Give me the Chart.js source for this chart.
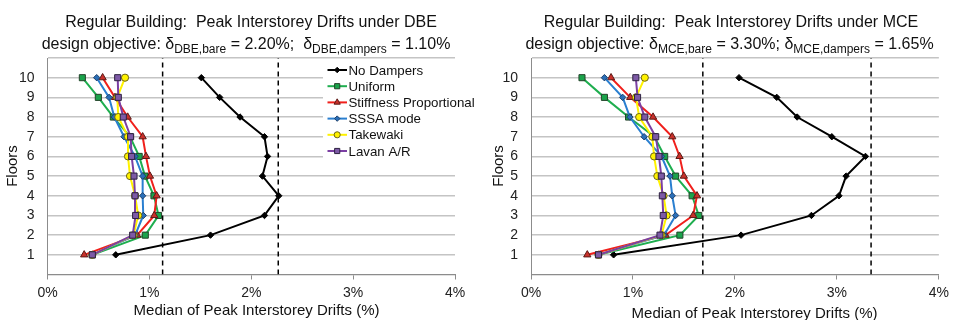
<!DOCTYPE html>
<html>
<head>
<meta charset="utf-8">
<script src="https://cdn.jsdelivr.net/npm/chart.js@4/dist/chart.umd.min.js"></script>
<style>
  html, body { margin: 0; padding: 0; background: #fff; }
  #wrap { position: relative; width: 954px; height: 320px; }
  .box { position: absolute; top: 0; width: 477px; height: 320px; }
</style>
</head>
<body>
<div id="wrap">
  <div class="box" style="left:0"><canvas id="dbe" width="477" height="320"></canvas></div>
  <div class="box" style="left:477px"><canvas id="mce" width="477" height="320"></canvas></div>
</div>
<script>
// Floors and series
const floors = [1, 2, 3, 4, 5, 6, 7, 8, 9, 10];
const seriesNames = ['No Dampers', 'Uniform', 'Stiffness Proportional', 'SSSA mode', 'Takewaki', 'Lavan A/R'];
const xTickValues = [0, 1, 2, 3, 4];
const yTickLabels = ['1', '2', '3', '4', '5', '6', '7', '8', '9', '10'];

// DBE: median peak interstorey drift (%) per floor (floor 1 -> 10)
const dbeNoDampers = [0.67, 1.60, 2.13, 2.27, 2.11, 2.16, 2.13, 1.89, 1.69, 1.51];
const dbeUniform = [0.44, 0.96, 1.09, 1.045, 0.957, 0.90, 0.81, 0.646, 0.499, 0.342];
const dbeStiffness = [0.36, 0.88, 1.048, 1.071, 1.006, 0.967, 0.934, 0.787, 0.662, 0.541];
const dbeSSSA = [0.44, 0.86, 0.94, 0.934, 0.934, 0.859, 0.751, 0.656, 0.604, 0.483];
const dbeTakewaki = [0.44, 0.845, 0.89, 0.86, 0.81, 0.79, 0.79, 0.695, 0.685, 0.761];
const dbeLavan = [0.44, 0.836, 0.865, 0.859, 0.849, 0.826, 0.816, 0.744, 0.695, 0.689];
const dbeLimits = [1.13, 2.265];

// MCE: median peak interstorey drift (%) per floor (floor 1 -> 10)
const mceNoDampers = [0.81, 2.06, 2.75, 3.02, 3.09, 3.28, 2.95, 2.61, 2.41, 2.04];
const mceUniform = [0.662, 1.46, 1.645, 1.58, 1.418, 1.311, 1.21, 0.957, 0.72, 0.50];
const mceStiffness = [0.552, 1.32, 1.59, 1.628, 1.499, 1.457, 1.385, 1.197, 0.973, 0.785];
const mceSSSA = [0.662, 1.304, 1.418, 1.385, 1.363, 1.28, 1.109, 0.97, 0.899, 0.72];
const mceTakewaki = [0.662, 1.28, 1.33, 1.30, 1.239, 1.207, 1.19, 1.061, 1.03, 1.116];
const mceLavan = [0.662, 1.265, 1.297, 1.288, 1.278, 1.255, 1.223, 1.116, 1.045, 1.028];
const mceLimits = [1.685, 3.335];

const FONT = '"Liberation Sans", Arial, Helvetica, sans-serif';
Chart.defaults.font.family = FONT;

const styles = [
  { line: '#000000', fill: '#000000', border: '#000000', shape: 'rectRot', r: 3.2 },
  { line: '#1fae4f', fill: '#1aa34b', border: '#24442a', shape: 'rect', r: 4.3 },
  { line: '#f0201c', fill: '#c9302a', border: '#5a1a16', shape: 'triangle', r: 4.2 },
  { line: '#2a7fd0', fill: '#2a6fb8', border: '#1c3f6a', shape: 'rectRot', r: 3.2 },
  { line: '#fff200', fill: '#fff200', border: '#6b6418', shape: 'circle', r: 3.6 },
  { line: '#7b3fa3', fill: '#7d5aa6', border: '#2e2240', shape: 'rect', r: 4.3 }
];

function drawRich(ctx, parts, cx, baseline) {
  let total = 0;
  parts.forEach(p => {
    ctx.font = (p.sub ? 12 : 16) + 'px ' + FONT;
    p.w = ctx.measureText(p.t).width;
    total += p.w;
  });
  let x = cx - total / 2;
  ctx.textAlign = 'left';
  ctx.textBaseline = 'alphabetic';
  parts.forEach(p => {
    ctx.font = (p.sub ? 12 : 16) + 'px ' + FONT;
    ctx.fillText(p.t, x, baseline + (p.sub ? 4 : 0));
    x += p.w;
  });
}

function textPlugin(cfg) {
  return {
    id: 'texts',
    afterDatasetsDraw(chart) {
      const ctx = chart.ctx;
      ctx.save();
      ctx.fillStyle = '#111';
      drawRich(ctx, [{ t: cfg.title1 }], cfg.titleX, 27);
      drawRich(ctx, cfg.title2, cfg.title2X, 49);

      ctx.font = '15px ' + FONT;
      ctx.textAlign = 'center';
      ctx.textBaseline = 'alphabetic';
      ctx.fillText('Median of Peak Interstorey Drifts (%)', cfg.xTitleX, cfg.xTitleY);

      ctx.save();
      ctx.translate(cfg.yTitleX, 166);
      ctx.rotate(-Math.PI / 2);
      ctx.textBaseline = 'middle';
      ctx.fillText('Floors', 0, 0);
      ctx.restore();

      if (cfg.legend) {
        ctx.fillStyle = '#ffffff';
        ctx.fillRect(323, 60, 154, 104);
        const ys = [70, 86.2, 102.4, 118.6, 134.8, 151];
        seriesNames.forEach((name, i) => {
          const s = styles[i];
          const y = ys[i];
          ctx.strokeStyle = s.line;
          ctx.lineWidth = 2;
          ctx.beginPath();
          ctx.moveTo(327.5, y);
          ctx.lineTo(347, y);
          ctx.stroke();
          ctx.fillStyle = s.fill;
          ctx.strokeStyle = s.border;
          ctx.lineWidth = 1;
          Chart.helpers.drawPoint(ctx, { pointStyle: s.shape, radius: s.r * 0.85, rotation: 0, borderWidth: 1 }, 337.2, y);
          ctx.fillStyle = '#111';
          ctx.font = '13.3px ' + FONT;
          ctx.textAlign = 'left';
          ctx.textBaseline = 'middle';
          ctx.fillText(name, 348.5, y + 1);
        });
      }
      ctx.restore();
    }
  };
}

function makeChart(id, series, limits, cfg) {
  const datasets = [];
  limits.forEach(v => {
    datasets.push({
      data: [{ x: v, y: 0 }, { x: v, y: 11 }],
      showLine: true, borderColor: '#000', borderWidth: 1.5, borderDash: [5, 4],
      pointRadius: 0, order: 10
    });
  });
  series.forEach((vals, i) => {
    const s = styles[i];
    datasets.push({
      label: seriesNames[i],
      data: floors.map((f, k) => ({ x: vals[k], y: f })),
      showLine: true,
      borderColor: s.line,
      borderWidth: 2,
      pointStyle: s.shape,
      pointRadius: s.r,
      pointBackgroundColor: s.fill,
      pointBorderColor: s.border,
      pointBorderWidth: 1,
      order: 5 - i
    });
  });

  return new Chart(document.getElementById(id), {
    type: 'scatter',
    data: { datasets },
    options: {
      responsive: false,
      animation: false,
      events: [],
      layout: { padding: { left: 0, right: cfg.padRight, top: 58, bottom: 0 } },
      plugins: { legend: { display: false }, tooltip: { enabled: false } },
      scales: {
        x: {
          type: 'linear', min: 0, max: 4,
          afterBuildTicks: s => { s.ticks = xTickValues.map(v => ({ value: v })); },
          ticks: { callback: v => v + '%', font: { size: 14 }, color: '#222', padding: 5, maxRotation: 0, autoSkip: false },
          grid: { drawOnChartArea: false, drawTicks: true, tickLength: 5, color: '#8c8c8c' },
          border: { color: '#8c8c8c', width: 1 },
          afterFit: s => { s.height = 320 - 274.5; }
        },
        y: {
          type: 'linear', min: 0, max: 11,
          afterBuildTicks: s => {
            const t = [];
            for (let v = 0; v <= 11; v++) t.push({ value: v });
            s.ticks = t;
          },
          ticks: {
            callback: v => (v >= 1 && v <= 10) ? yTickLabels[v - 1] : '',
            font: { size: 14 }, color: '#222', padding: 13, autoSkip: false
          },
          grid: { color: '#c4c4c4', lineWidth: 1.5, drawTicks: false },
          border: { color: '#8c8c8c', width: 1 },
          afterFit: s => { s.width = cfg.axisLeft; }
        }
      }
    },
    plugins: [textPlugin(cfg)]
  });
}

makeChart('dbe', [dbeNoDampers, dbeUniform, dbeStiffness, dbeSSSA, dbeTakewaki, dbeLavan], dbeLimits, {
  padRight: 477 - 455, axisLeft: 47.5,
  title1: 'Regular Building:  Peak Interstorey Drifts under DBE', titleX: 251,
  title2: [{ t: 'design objective: δ' }, { t: 'DBE,bare', sub: true }, { t: ' = 2.20%;  δ' }, { t: 'DBE,dampers', sub: true }, { t: ' = 1.10%' }],
  title2X: 246,
  xTitleX: 256.5, xTitleY: 315, yTitleX: 13, legend: true
});

makeChart('mce', [mceNoDampers, mceUniform, mceStiffness, mceSSSA, mceTakewaki, mceLavan], mceLimits, {
  padRight: 477 - 465, axisLeft: 54,
  title1: 'Regular Building:  Peak Interstorey Drifts under MCE', titleX: 254,
  title2: [{ t: 'design objective: δ' }, { t: 'MCE,bare', sub: true }, { t: ' = 3.30%; δ' }, { t: 'MCE,dampers', sub: true }, { t: ' = 1.65%' }],
  title2X: 252.5,
  xTitleX: 277.5, xTitleY: 318, yTitleX: 21.5, legend: false
});
</script>
</body>
</html>
